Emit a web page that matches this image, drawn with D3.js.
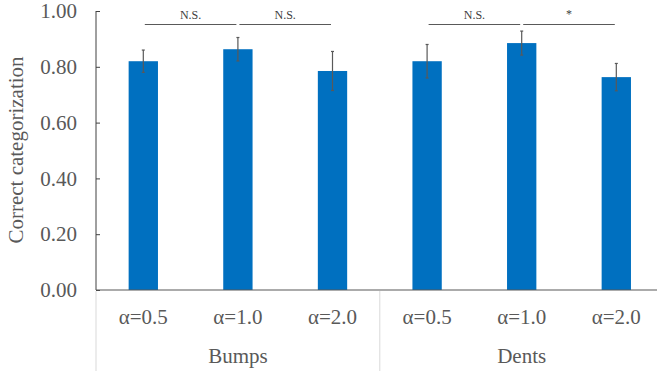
<!DOCTYPE html>
<html>
<head>
<meta charset="utf-8">
<script src="https://cdn.jsdelivr.net/npm/d3@7"></script>
<style>
  body { margin: 0; background: #fff; }
</style>
</head>
<body>
<svg width="657" height="371"></svg>
<script>
// chart data
var groups = ["Bumps", "Dents"];
var alphas = ["α=0.5", "α=1.0", "α=2.0"];
var means = [0.82, 0.863, 0.785, 0.82, 0.885, 0.763];
var errs = [0.04, 0.042, 0.07, 0.06, 0.043, 0.049];
var yTicks = [0, 0.2, 0.4, 0.6, 0.8, 1.0];
// significance brackets: from bar, to bar, label
var sigFrom = [0, 1, 3, 4];
var sigTo = [1, 2, 4, 5];
var sigLabels = ["N.S.", "N.S.", "N.S.", "*"];

var FONT = "'Liberation Serif'";
var svg = d3.select("svg");
var pLeft = 96, pTop = 11, pBottom = 290, pRight = 663.6;

var keys = [];
groups.forEach(g => alphas.forEach(a => keys.push(g + "|" + a)));

var x = d3.scaleBand().domain(keys).range([pLeft, pRight]).padding(0);
var y = d3.scaleLinear().domain([0, 1]).range([pBottom, pTop]);
var bw = x.bandwidth() * 0.31;
var cx = i => x(keys[i]) + x.bandwidth() / 2;

// bars
svg.selectAll(".bar")
  .data(means)
  .enter().append("rect")
  .attr("class", "bar")
  .attr("x", (d, i) => cx(i) - bw / 2)
  .attr("y", d => y(d))
  .attr("width", bw)
  .attr("height", d => pBottom - y(d))
  .attr("fill", "#0070c0");

// error bars
var eb = svg.selectAll(".err").data(means).enter().append("g").attr("class", "err")
  .attr("stroke", "#595959").attr("stroke-width", 1.2);
eb.append("line")
  .attr("x1", (d, i) => cx(i)).attr("x2", (d, i) => cx(i))
  .attr("y1", (d, i) => y(d + errs[i])).attr("y2", (d, i) => y(d - errs[i]));
eb.append("line")
  .attr("x1", (d, i) => cx(i) - 1.5).attr("x2", (d, i) => cx(i) + 1.5)
  .attr("y1", (d, i) => y(d + errs[i])).attr("y2", (d, i) => y(d + errs[i]));
eb.append("line")
  .attr("x1", (d, i) => cx(i) - 1.5).attr("x2", (d, i) => cx(i) + 1.5)
  .attr("y1", (d, i) => y(d - errs[i])).attr("y2", (d, i) => y(d - errs[i]));

// y axis
var yAxis = svg.append("g")
  .attr("transform", "translate(" + pLeft + ",0)")
  .call(d3.axisLeft(y).tickValues(yTicks).tickFormat(d3.format(".2f")).tickSize(-4).tickPadding(19));
yAxis.attr("font-family", null).attr("font-size", null);
yAxis.select(".domain").attr("stroke", "#404040").attr("d", "M0," + pTop + "V" + pBottom);
yAxis.selectAll(".tick line").attr("stroke", "#404040");
yAxis.selectAll(".tick text")
  .attr("fill", "#595959").style("font-size", "21px").style("font-family", FONT);

// x axis baseline
svg.append("line")
  .attr("x1", pLeft).attr("x2", 657).attr("y1", pBottom).attr("y2", pBottom)
  .attr("stroke", "#595959").attr("stroke-width", 1.2);

// group separators
[0, 3].forEach(i => {
  var xx = x(keys[i]);
  svg.append("line")
    .attr("x1", xx).attr("x2", xx).attr("y1", pBottom + 1).attr("y2", 371)
    .attr("stroke", "#d9d9d9").attr("stroke-width", 1);
});

// category labels
svg.selectAll(".cat")
  .data(keys)
  .enter().append("text")
  .attr("x", (d, i) => cx(i))
  .attr("y", 324)
  .attr("text-anchor", "middle")
  .attr("fill", "#595959")
  .style("font-family", FONT)
  .style("font-size", "21px")
  .text(d => d.split("|")[1]);

// group labels
svg.selectAll(".grp")
  .data(groups)
  .enter().append("text")
  .attr("x", (d, i) => (x(keys[i * 3]) + x(keys[i * 3 + 2]) + x.bandwidth()) / 2)
  .attr("y", 363)
  .attr("text-anchor", "middle")
  .attr("fill", "#595959")
  .style("font-family", FONT)
  .style("font-size", "21px")
  .text(d => d);

// y title
svg.append("text")
  .attr("transform", "translate(23,150) rotate(-90)")
  .attr("text-anchor", "middle")
  .attr("fill", "#595959")
  .style("font-family", FONT)
  .style("font-size", "21px")
  .text("Correct categorization");

// significance brackets
var sigY = 24.5;
sigLabels.forEach((lab, k) => {
  var x1 = cx(sigFrom[k]) + 1.5, x2 = cx(sigTo[k]) - 1.5;
  svg.append("line")
    .attr("x1", x1).attr("x2", x2).attr("y1", sigY).attr("y2", sigY)
    .attr("stroke", "#595959").attr("stroke-width", 1);
  svg.append("text")
    .attr("x", (x1 + x2) / 2)
    .attr("y", lab === "*" ? 18 : 19.3)
    .attr("text-anchor", "middle")
    .attr("fill", "#404040")
    .style("font-family", FONT)
    .style("font-size", "12px")
    .text(lab);
});
</script>
</body>
</html>
